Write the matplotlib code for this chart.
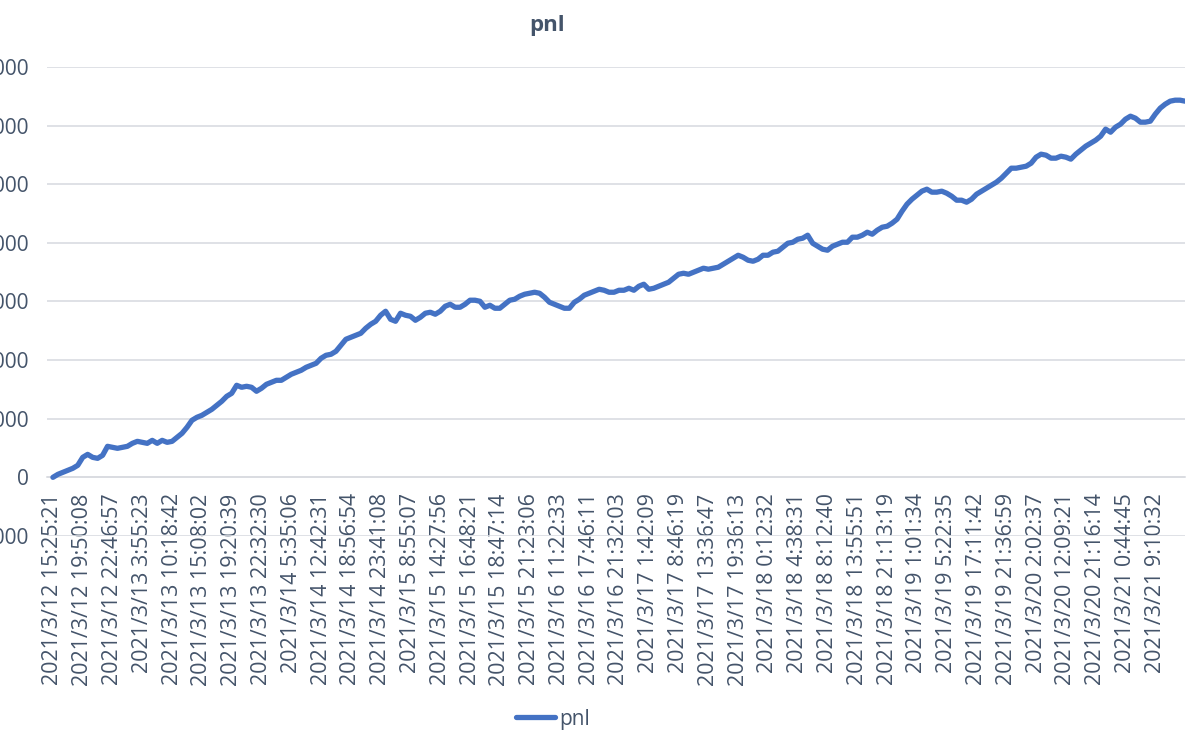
import matplotlib.pyplot as plt

# tick labels on the category axis (one every 6 points)
time_labels = [
    "2021/3/12 15:25:21", "2021/3/12 19:50:08", "2021/3/12 22:46:57",
    "2021/3/13 3:55:23", "2021/3/13 10:18:42", "2021/3/13 15:08:02",
    "2021/3/13 19:20:39", "2021/3/13 22:32:30", "2021/3/14 5:35:06",
    "2021/3/14 12:42:31", "2021/3/14 18:56:54", "2021/3/14 23:41:08",
    "2021/3/15 8:55:07", "2021/3/15 14:27:56", "2021/3/15 16:48:21",
    "2021/3/15 18:47:14", "2021/3/15 21:23:06", "2021/3/16 11:22:33",
    "2021/3/16 17:46:11", "2021/3/16 21:32:03", "2021/3/17 1:42:09",
    "2021/3/17 8:46:19", "2021/3/17 13:36:47", "2021/3/17 19:36:13",
    "2021/3/18 0:12:32", "2021/3/18 4:38:31", "2021/3/18 8:12:40",
    "2021/3/18 13:55:51", "2021/3/18 21:13:19", "2021/3/19 1:01:34",
    "2021/3/19 5:22:35", "2021/3/19 17:11:42", "2021/3/19 21:36:59",
    "2021/3/20 2:02:37", "2021/3/20 12:09:21", "2021/3/20 21:16:14",
    "2021/3/21 0:44:45", "2021/3/21 9:10:32",
]
label_step = 6

# pnl values
pnl = [
    0, 51, 85, 119, 154, 205, 341, 392, 341, 324,
    375, 529, 512, 495, 512, 529, 580, 614, 597, 580,
    631, 580, 631, 597, 614, 683, 751, 853, 973, 1024,
    1058, 1109, 1160, 1229, 1297, 1382, 1433, 1570, 1536, 1553,
    1536, 1468, 1519, 1587, 1621, 1655, 1655, 1707, 1758, 1792,
    1826, 1877, 1911, 1945, 2031, 2082, 2099, 2150, 2253, 2355,
    2389, 2423, 2457, 2543, 2611, 2662, 2765, 2833, 2696, 2662,
    2799, 2765, 2747, 2679, 2730, 2799, 2816, 2782, 2833, 2918,
    2952, 2901, 2901, 2952, 3021, 3021, 3003, 2901, 2935, 2884,
    2884, 2952, 3021, 3038, 3089, 3123, 3140, 3157, 3140, 3072,
    2986, 2952, 2918, 2884, 2884, 2986, 3038, 3106, 3140, 3174,
    3208, 3191, 3157, 3157, 3191, 3191, 3225, 3191, 3259, 3294,
    3208, 3225, 3259, 3294, 3328, 3396, 3464, 3481, 3464, 3498,
    3532, 3567, 3550, 3567, 3584, 3635, 3686, 3737, 3788, 3754,
    3703, 3686, 3720, 3788, 3788, 3840, 3857, 3925, 3993, 4010,
    4061, 4079, 4130, 3993, 3942, 3891, 3874, 3942, 3976, 4010,
    4010, 4096, 4096, 4130, 4181, 4147, 4215, 4266, 4283, 4335,
    4403, 4539, 4659, 4744, 4812, 4881, 4915, 4864, 4864, 4881,
    4846, 4795, 4727, 4727, 4693, 4744, 4829, 4881, 4932, 4983,
    5034, 5102, 5188, 5273, 5273, 5290, 5307, 5358, 5461, 5512,
    5495, 5444, 5444, 5478, 5461, 5427, 5512, 5580, 5649, 5700,
    5751, 5819, 5939, 5887, 5973, 6024, 6109, 6160, 6126, 6058,
    6058, 6075, 6195, 6297, 6365, 6416, 6433, 6433, 6416,
]

text_color = '#44546a'
line_color = '#4472c4'
grid_color = '#d9dce1'

plt.rcParams['font.family'] = ['Open Sans', 'DejaVu Sans']

fig = plt.figure(figsize=(11.98, 7.34), dpi=100)
ax = fig.add_axes([0.0392, 0.2698, 0.950, 0.6390])

x = list(range(len(pnl)))
ax.plot(x, pnl, color=line_color, linewidth=3.8, solid_capstyle='round',
        solid_joinstyle='round', label='pnl', zorder=3)

# horizontal axis crosses at 0 (set before tick labels, it resets them)
for s in ['top', 'right', 'left']:
    ax.spines[s].set_visible(False)
ax.spines['bottom'].set_position(('data', 0))
ax.spines['bottom'].set_color(grid_color)
ax.spines['bottom'].set_linewidth(1.2)

ax.set_xlim(-1.2, 228)
ax.set_ylim(-1000, 7000)
ax.set_yticks(range(-1000, 7001, 1000))
ax.set_yticklabels([str(v) for v in range(-1000, 7001, 1000)])
ax.yaxis.grid(True, color=grid_color, linewidth=1.2)
ax.set_axisbelow(True)

ax.set_xticks(range(0, len(time_labels) * label_step, label_step))
ax.set_xticklabels(time_labels, rotation=90, ha='center', va='top')

ax.tick_params(axis='x', length=0, pad=11.5, labelsize=15.5, labelcolor=text_color)
ax.tick_params(axis='y', length=0, pad=13, labelsize=15, labelcolor=text_color)

fig.text(547 / 1198, 1 - 25 / 734, 'pnl', ha='center', va='center',
         fontsize=16, fontweight='bold', color=text_color)

leg = fig.legend(loc='center', bbox_to_anchor=(553 / 1198, 1 - 719 / 734),
                 frameon=False, fontsize=15, handlelength=1.9, handletextpad=0.2)
for t in leg.get_texts():
    t.set_color(text_color)

fig.savefig('out.png', dpi=100)
